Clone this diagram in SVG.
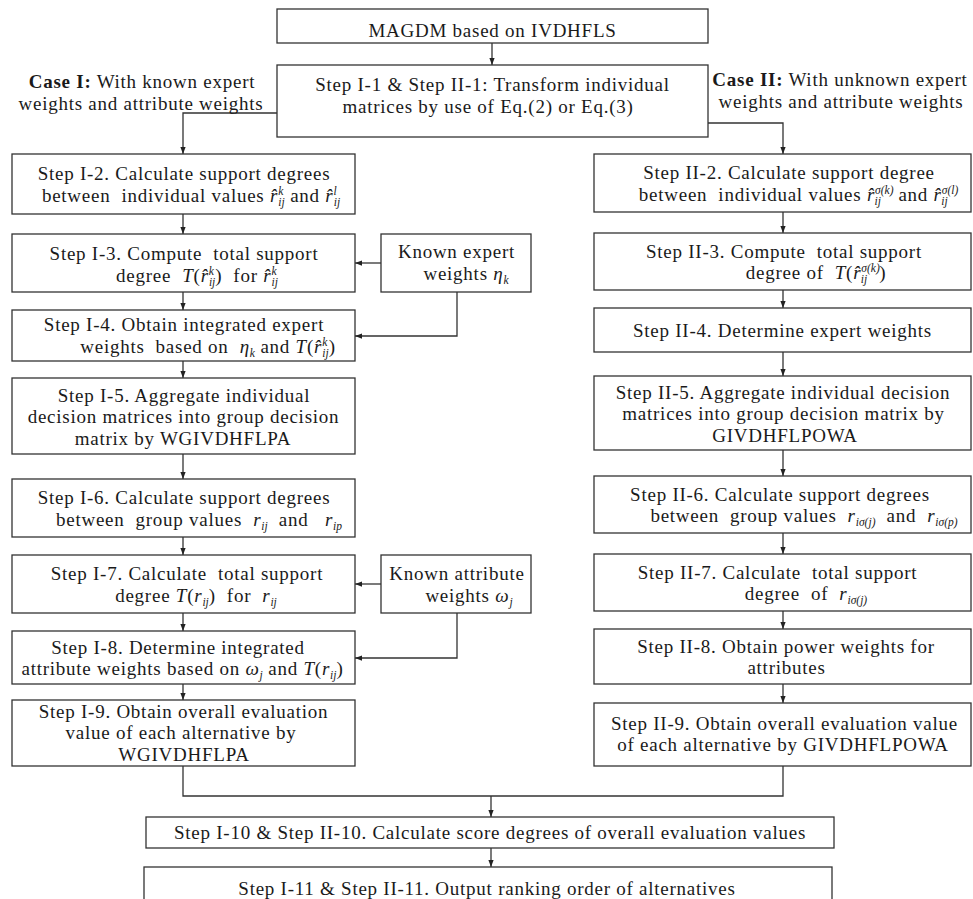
<svg xmlns="http://www.w3.org/2000/svg" width="973" height="899" viewBox="0 0 973 899">
<style>
.bx{fill:#fff;stroke:#333;stroke-width:1.3}
.t{font-family:"Liberation Serif","Times New Roman",serif;font-size:19px;letter-spacing:0.75px;fill:#1a1a1a;text-anchor:middle;white-space:pre}
.i{font-style:italic}
.s{font-size:11.5px;font-style:italic;letter-spacing:0}
.b{font-weight:bold}
.c{fill:none;stroke:#333;stroke-width:1.3}
</style>
<defs>
<marker id="ah" viewBox="0 0 8 6" refX="8" refY="3" markerWidth="7" markerHeight="6" markerUnits="userSpaceOnUse" orient="auto"><path d="M0,0L8,3L0,6z" fill="#222"/></marker>
</defs>
<rect width="973" height="899" fill="#fff"/>

<g id="connectors">
<path class="c" d="M492,43V65" marker-end="url(#ah)"/>
<path class="c" d="M277,113H183V154" marker-end="url(#ah)"/>
<path class="c" d="M708,123H783V154" marker-end="url(#ah)"/>
<path class="c" d="M183,214V234" marker-end="url(#ah)"/>
<path class="c" d="M183,292V310" marker-end="url(#ah)"/>
<path class="c" d="M183,361V378" marker-end="url(#ah)"/>
<path class="c" d="M183,454V479" marker-end="url(#ah)"/>
<path class="c" d="M183,537V555" marker-end="url(#ah)"/>
<path class="c" d="M183,613V631" marker-end="url(#ah)"/>
<path class="c" d="M183,684V700" marker-end="url(#ah)"/>
<path class="c" d="M783,212V233" marker-end="url(#ah)"/>
<path class="c" d="M783,290V308" marker-end="url(#ah)"/>
<path class="c" d="M783,352V376" marker-end="url(#ah)"/>
<path class="c" d="M783,450V476" marker-end="url(#ah)"/>
<path class="c" d="M783,533V554" marker-end="url(#ah)"/>
<path class="c" d="M783,611V629" marker-end="url(#ah)"/>
<path class="c" d="M783,684V703" marker-end="url(#ah)"/>
<path class="c" d="M381,263H355" marker-end="url(#ah)"/>
<path class="c" d="M457,292V336H355" marker-end="url(#ah)"/>
<path class="c" d="M381,584H355" marker-end="url(#ah)"/>
<path class="c" d="M457,613V658H355" marker-end="url(#ah)"/>
<path class="c" d="M183,766V796H783V766"/>
<path class="c" d="M491,796V817" marker-end="url(#ah)"/>
<path class="c" d="M491,848V867" marker-end="url(#ah)"/>
</g>

<g id="caseI">
<text class="t" x="142" y="88"><tspan class="b">Case I:</tspan> With known expert</text>
<text class="t" x="141" y="110">weights and attribute weights</text>
</g>
<g id="caseII">
<text class="t" x="840" y="86"><tspan class="b">Case II:</tspan> With unknown expert</text>
<text class="t" x="841" y="108">weights and attribute weights</text>
</g>

<g id="top">
<rect class="bx" x="277" y="9" width="431" height="34"/>
<text class="t" x="492.5" y="37">MAGDM based on IVDHFLS</text>
</g>
<g id="step1">
<rect class="bx" x="277" y="65" width="431" height="72"/>
<text class="t" x="492.5" y="91">Step I-1 &amp; Step II-1: Transform individual</text>
<text class="t" x="488" y="113">matrices by use of Eq.(2) or Eq.(3)</text>
</g>

<g id="stepI2">
<rect class="bx" x="12" y="154" width="343" height="60"/>
<text class="t" x="184" y="180">Step I-2. Calculate support degrees</text>
<text class="t" x="191" y="202">between  individual values <tspan class="i">r&#x302;</tspan><tspan class="s" dy="-7">k</tspan><tspan class="s" dx="-5" dy="11">ij</tspan><tspan dy="-4"> and </tspan><tspan class="i">r&#x302;</tspan><tspan class="s" dy="-7">l</tspan><tspan class="s" dx="-3" dy="11">ij</tspan></text>
</g>
<g id="stepI3">
<rect class="bx" x="12" y="234" width="343" height="58"/>
<text class="t" x="184" y="260">Step I-3. Compute  total support</text>
<text class="t" x="197" y="282">degree  <tspan class="i">T</tspan>(<tspan class="i">r&#x302;</tspan><tspan class="s" dy="-7">k</tspan><tspan class="s" dx="-5" dy="11">ij</tspan><tspan dy="-4">)  for </tspan><tspan class="i">r&#x302;</tspan><tspan class="s" dy="-7">k</tspan><tspan class="s" dx="-5" dy="11">ij</tspan></text>
</g>
<g id="knownExpert">
<rect class="bx" x="381" y="234" width="150" height="58"/>
<text class="t" x="456.5" y="258">Known expert</text>
<text class="t" x="466" y="280">weights <tspan class="i">η</tspan><tspan class="s" dy="4">k</tspan></text>
</g>
<g id="stepI4">
<rect class="bx" x="12" y="310" width="343" height="51"/>
<text class="t" x="184" y="331">Step I-4. Obtain integrated expert</text>
<text class="t" x="208" y="353">weights  based on  <tspan class="i">η</tspan><tspan class="s" dy="4">k</tspan><tspan dy="-4"> and </tspan><tspan class="i">T</tspan>(<tspan class="i">r&#x302;</tspan><tspan class="s" dy="-7">k</tspan><tspan class="s" dx="-5" dy="11">ij</tspan><tspan dy="-4">)</tspan></text>
</g>
<g id="stepI5">
<rect class="bx" x="12" y="378" width="343" height="76"/>
<text class="t" x="184" y="401.5">Step I-5. Aggregate individual</text>
<text class="t" x="183.5" y="423">decision matrices into group decision</text>
<text class="t" x="183" y="444.5">matrix by WGIVDHFLPA</text>
</g>
<g id="stepI6">
<rect class="bx" x="12" y="479" width="343" height="58"/>
<text class="t" x="184" y="504">Step I-6. Calculate support degrees</text>
<text class="t" x="199" y="526">between  group values  <tspan class="i">r</tspan><tspan class="s" dy="4">ij</tspan><tspan dy="-4">  and   </tspan><tspan class="i">r</tspan><tspan class="s" dy="4">ip</tspan></text>
</g>
<g id="stepI7">
<rect class="bx" x="12" y="555" width="343" height="58"/>
<text class="t" x="187" y="580">Step I-7. Calculate  total support</text>
<text class="t" x="196" y="602">degree <tspan class="i">T</tspan>(<tspan class="i">r</tspan><tspan class="s" dy="4">ij</tspan><tspan dy="-4">)  for  </tspan><tspan class="i">r</tspan><tspan class="s" dy="4">ij</tspan></text>
</g>
<g id="knownAttribute">
<rect class="bx" x="381" y="555" width="150" height="58"/>
<text class="t" x="457" y="580">Known attribute</text>
<text class="t" x="469" y="602">weights <tspan class="i">ω</tspan><tspan class="s" dy="4">j</tspan></text>
</g>
<g id="stepI8">
<rect class="bx" x="12" y="631" width="343" height="53"/>
<text class="t" x="178" y="653.5">Step I-8. Determine integrated</text>
<text class="t" x="182.5" y="675">attribute weights based on <tspan class="i">ω</tspan><tspan class="s" dy="4">j</tspan><tspan dy="-4"> and </tspan><tspan class="i">T</tspan>(<tspan class="i">r</tspan><tspan class="s" dy="4">ij</tspan><tspan dy="-4">)</tspan></text>
</g>
<g id="stepI9">
<rect class="bx" x="12" y="700" width="343" height="66"/>
<text class="t" x="183.5" y="717.5">Step I-9. Obtain overall evaluation</text>
<text class="t" x="181" y="739">value of each alternative by</text>
<text class="t" x="184" y="760.5">WGIVDHFLPA</text>
</g>

<g id="stepII2">
<rect class="bx" x="594" y="154" width="377" height="58"/>
<text class="t" x="789" y="179">Step II-2. Calculate support degree</text>
<text class="t" x="801" y="201">between  individual values <tspan class="i">r&#x302;</tspan><tspan class="s" dy="-7">σ(k)</tspan><tspan class="s" dx="-19" dy="11">ij</tspan><tspan dx="12" dy="-4"> and </tspan><tspan class="i">r&#x302;</tspan><tspan class="s" dy="-7">σ(l)</tspan><tspan class="s" dx="-17" dy="11">ij</tspan><tspan dx="10" dy="-4"> </tspan></text>
</g>
<g id="stepII3">
<rect class="bx" x="594" y="233" width="377" height="57"/>
<text class="t" x="784" y="257.5">Step II-3. Compute  total support</text>
<text class="t" x="816" y="279">degree of  <tspan class="i">T</tspan>(<tspan class="i">r&#x302;</tspan><tspan class="s" dy="-7">σ(k)</tspan><tspan class="s" dx="-19" dy="11">ij</tspan><tspan dx="12" dy="-4">)</tspan></text>
</g>
<g id="stepII4">
<rect class="bx" x="594" y="308" width="377" height="44"/>
<text class="t" x="782.5" y="337">Step II-4. Determine expert weights</text>
</g>
<g id="stepII5">
<rect class="bx" x="594" y="376" width="377" height="74"/>
<text class="t" x="783" y="398.5">Step II-5. Aggregate individual decision</text>
<text class="t" x="783.5" y="420">matrices into group decision matrix by</text>
<text class="t" x="785" y="441.5">GIVDHFLPOWA</text>
</g>
<g id="stepII6">
<rect class="bx" x="594" y="476" width="377" height="57"/>
<text class="t" x="780" y="500.5">Step II-6. Calculate support degrees</text>
<text class="t" x="804" y="522">between  group values  <tspan class="i">r</tspan><tspan class="s" dy="4">iσ(j)</tspan><tspan dy="-4">  and  </tspan><tspan class="i">r</tspan><tspan class="s" dy="4">iσ(p)</tspan></text>
</g>
<g id="stepII7">
<rect class="bx" x="594" y="554" width="377" height="57"/>
<text class="t" x="777.5" y="578.5">Step II-7. Calculate  total support</text>
<text class="t" x="806" y="600">degree  of  <tspan class="i">r</tspan><tspan class="s" dy="4">iσ(j)</tspan></text>
</g>
<g id="stepII8">
<rect class="bx" x="594" y="629" width="377" height="55"/>
<text class="t" x="786" y="652.5">Step II-8. Obtain power weights for</text>
<text class="t" x="786.5" y="674">attributes</text>
</g>
<g id="stepII9">
<rect class="bx" x="594" y="703" width="377" height="63"/>
<text class="t" x="784.5" y="729.5">Step II-9. Obtain overall evaluation value</text>
<text class="t" x="783" y="751">of each alternative by GIVDHFLPOWA</text>
</g>

<g id="step10">
<rect class="bx" x="146" y="817" width="688" height="31"/>
<text class="t" x="490" y="839">Step I-10 &amp; Step II-10. Calculate score degrees of overall evaluation values</text>
</g>
<g id="step11">
<rect class="bx" x="144" y="867" width="688" height="45"/>
<text class="t" x="487" y="895">Step I-11 &amp; Step II-11. Output ranking order of alternatives</text>
</g>
</svg>
